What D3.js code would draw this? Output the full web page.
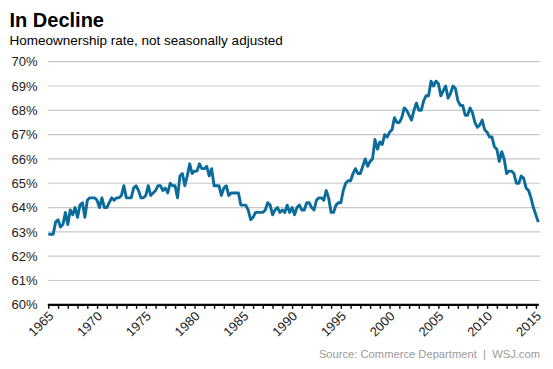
<!DOCTYPE html>
<html>
<head>
<meta charset="utf-8">
<script src="https://cdn.jsdelivr.net/npm/d3@7"></script>
<style>
  html, body { margin: 0; padding: 0; background: #fff; }
  svg { display: block; font-family: "Liberation Sans", Arial, sans-serif; }
</style>
</head>
<body>
<svg id="chart" width="553" height="369"></svg>
<script>
// ---- data ----
const titleText = "In Decline";
const subtitleText = "Homeownership rate, not seasonally adjusted";
const sourceText = "Source: Commerce Department  |  WSJ.com";
const startYear = 1965; // first quarter = 1965 Q1
// quarterly homeownership rate (%), 1965 Q1 – 2015 Q2
const rates1965_1979 = [
  62.9, 62.9, 62.9, 63.4,
  63.5, 63.2, 63.3, 63.8,
  63.3, 63.9, 63.7, 64.0,
  63.6, 64.1, 64.2, 63.6,
  64.3, 64.4, 64.4, 64.4,
  64.3, 64.0, 64.4, 64.0,
  64.0, 64.2, 64.4, 64.3,
  64.4, 64.4, 64.5, 64.9,
  64.4, 64.4, 64.4, 64.8,
  64.9, 64.7, 64.4, 64.4,
  64.5, 64.9, 64.5, 64.6,
  64.7, 64.9, 64.9, 64.7,
  64.8, 64.6, 65.0, 64.9,
  64.9, 64.4, 65.3, 65.4,
  64.9, 65.3, 65.8, 65.4
];
const rates1980_1994 = [
  65.5, 65.5, 65.8, 65.6,
  65.6, 65.7, 65.3, 65.6,
  64.9, 64.9, 64.9, 64.5,
  64.8, 64.9, 64.5, 64.6,
  64.6, 64.6, 64.6, 64.1,
  64.1, 64.1, 63.9, 63.5,
  63.6, 63.8, 63.8, 63.8,
  63.8, 63.9, 64.2, 64.1,
  63.7, 63.9, 64.0, 63.8,
  63.9, 63.8, 64.1, 63.8,
  64.0, 63.7, 64.0, 64.1,
  63.9, 63.9, 64.2, 64.2,
  64.0, 63.9, 64.3, 64.4,
  64.4, 64.3, 64.7, 64.4,
  63.8, 63.8, 64.1, 64.2
];
const rates1995_2015 = [
  64.2, 64.7, 65.0, 65.1,
  65.1, 65.4, 65.6, 65.4,
  65.4, 65.7, 66.0, 65.7,
  65.9, 66.0, 66.8, 66.4,
  66.7, 66.6, 67.0, 66.9,
  67.1, 67.2, 67.7, 67.5,
  67.5, 67.7, 68.1, 68.0,
  67.8, 67.6, 68.0, 68.3,
  68.0, 68.0, 68.4, 68.6,
  68.6, 69.2, 69.0, 69.2,
  69.1, 68.6, 68.8, 69.0,
  68.5, 68.7, 69.0, 68.9,
  68.4, 68.2, 68.2, 67.8,
  67.8, 68.1, 67.9, 67.5,
  67.3, 67.4, 67.6, 67.2,
  67.1, 66.9, 66.9, 66.5,
  66.4, 65.9, 66.3, 66.0,
  65.4, 65.5, 65.5, 65.4,
  65.0, 65.0, 65.3, 65.2,
  64.8, 64.7, 64.4, 64.0,
  63.7, 63.4
];
const rates = rates1965_1979.concat(rates1980_1994, rates1995_2015);
const yTicks = [60, 61, 62, 63, 64, 65, 66, 67, 68, 69, 70];
const xLabelYears = [1965, 1970, 1975, 1980, 1985, 1990, 1995, 2000, 2005, 2010, 2015];
const xTickYears = d3.range(1965, 2016);

// ---- chart ----
const svg = d3.select("#chart");
const lastT = startYear + (rates.length - 1) / 4;
const x = d3.scaleLinear().domain([startYear, lastT]).range([48.3, 538.3]);
const y = d3.scaleLinear().domain([60, 70]).range([304.8, 61.7]);

svg.append("text").attr("x", 9.5).attr("y", 26.5)
  .attr("font-size", 20).attr("font-weight", "bold").attr("fill", "#000")
  .text(titleText);
svg.append("text").attr("x", 9.5).attr("y", 45)
  .attr("font-size", 13.5).attr("fill", "#000")
  .text(subtitleText);

// gridlines
svg.append("g").selectAll("line").data(yTicks.filter(d => d > 60)).join("line")
  .attr("x1", 48).attr("x2", 540)
  .attr("y1", d => y(d)).attr("y2", d => y(d))
  .attr("stroke", "#c8c8c8").attr("stroke-width", 1.2);

// y labels
svg.append("g").selectAll("text").data(yTicks).join("text")
  .attr("x", 37.5).attr("y", d => y(d)).attr("dy", "0.36em")
  .attr("text-anchor", "end").attr("font-size", 13).attr("fill", "#222")
  .text(d => d + "%");

// x axis
const xAxis = d3.axisBottom(x).tickValues(xTickYears).tickSize(4).tickFormat("");
const gx = svg.append("g").attr("transform", `translate(0,${y(60)})`).call(xAxis);
gx.select(".domain").attr("stroke", "#000").attr("stroke-width", 2.2)
  .attr("d", `M${x(startYear) - 0.5},0H${x(lastT) + 0.5}`);
gx.selectAll(".tick line").attr("stroke", "#000").attr("stroke-width", 1.4);

svg.append("g").selectAll("text").data(xLabelYears).join("text")
  .attr("transform", d => `translate(${x(d) + 6},${y(60) + 12}) rotate(-45)`)
  .attr("text-anchor", "end").attr("font-size", 13).attr("fill", "#222")
  .text(d => d);

// line
const line = d3.line()
  .x((d, i) => x(startYear + i / 4))
  .y(d => y(d));
svg.append("path").datum(rates)
  .attr("d", line).attr("fill", "none")
  .attr("stroke", "#0b6c9b").attr("stroke-width", 2.9)
  .attr("stroke-linejoin", "round").attr("stroke-linecap", "butt");

svg.append("text").attr("x", 540).attr("y", 358)
  .attr("text-anchor", "end").attr("font-size", 11.2).attr("fill", "#9a9a9a")
  .attr("xml:space", "preserve")
  .text(sourceText);
</script>
</body>
</html>
